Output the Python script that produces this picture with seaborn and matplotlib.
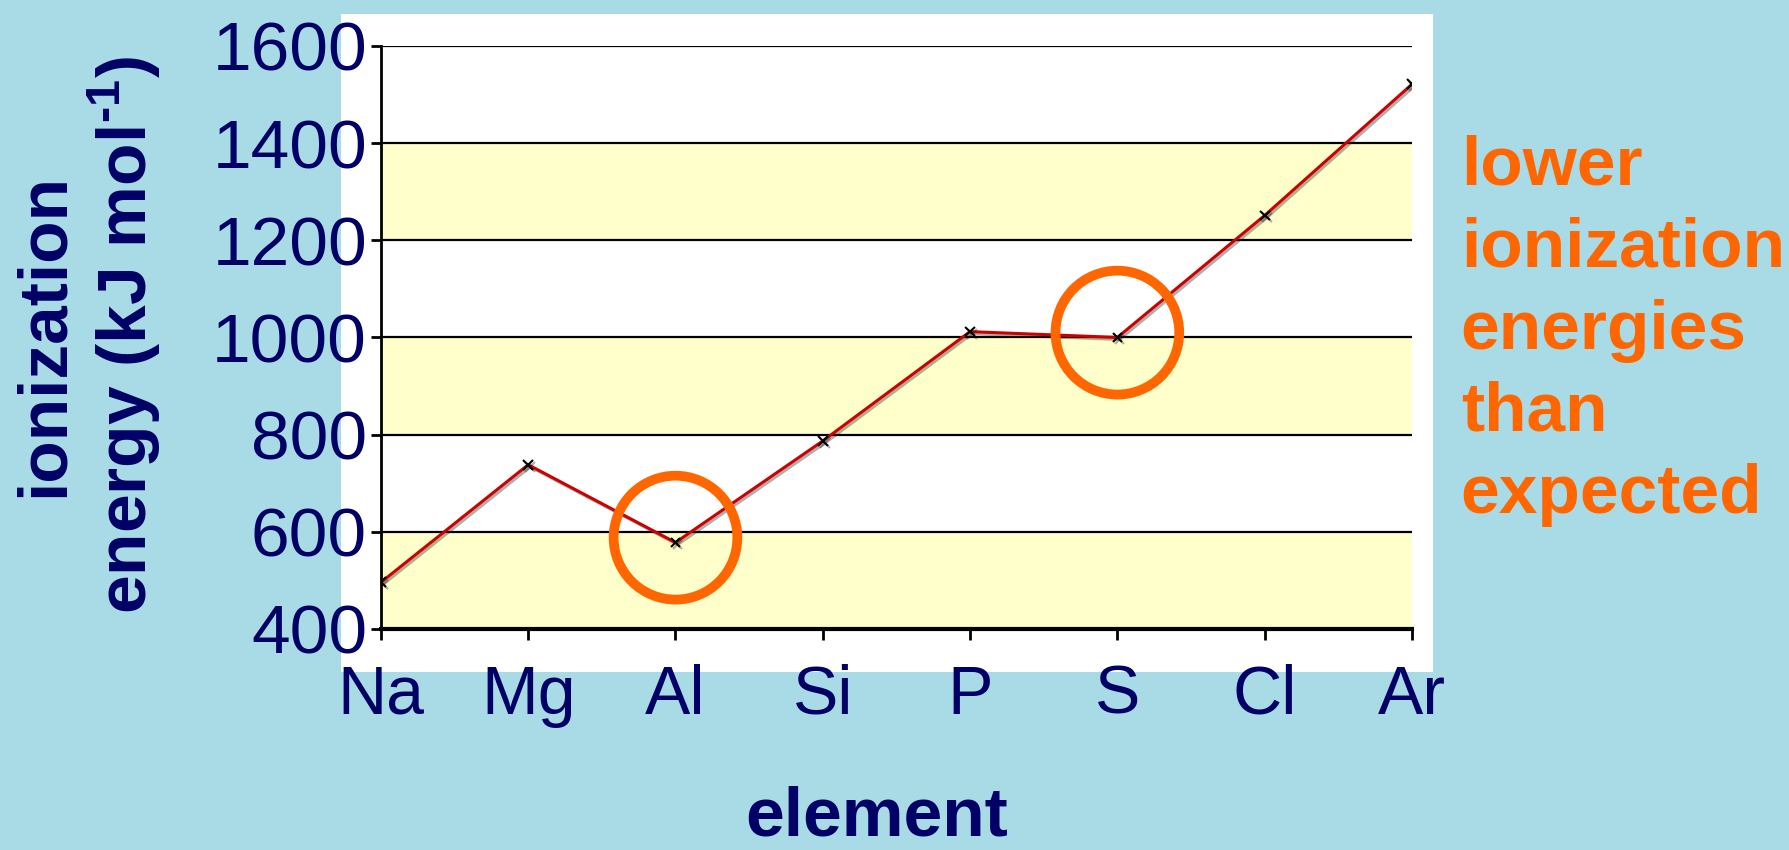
import matplotlib
matplotlib.use("Agg")
import matplotlib.pyplot as plt
import matplotlib.patheffects as pe
from matplotlib.patches import Ellipse, Rectangle
import seaborn as sns
import pandas as pd

# First ionization energies across period 3
elements = ["Na", "Mg", "Al", "Si", "P", "S", "Cl", "Ar"]
energies = [496, 738, 578, 787, 1012, 1000, 1251, 1521]
y_ticks = [400, 600, 800, 1000, 1200, 1400, 1600]
bands = [(400, 600), (800, 1000), (1200, 1400)]
# elements whose ionization energy dips below the trend
circled = ["Al", "S"]

NAVY = "#000066"
ORANGE = "#FF6600"
BG = "#A8DBE5"

sns.set_theme(style="white")
plt.rcParams["font.family"] = ["Liberation Sans", "DejaVu Sans"]
plt.rcParams["mathtext.fontset"] = "custom"
plt.rcParams["mathtext.rm"] = "Liberation Sans:bold"
plt.rcParams["mathtext.bf"] = "Liberation Sans:bold"

fig = plt.figure(figsize=(17.9, 8.5), dpi=100, facecolor=BG)

# white card behind the chart
fig.add_artist(Rectangle((0.1905, 0.2094), 0.610, 0.774, transform=fig.transFigure,
                         facecolor="white", edgecolor="none", zorder=-1))

ax = fig.add_axes([0.2128, 0.260, 0.576, 0.686])
ax.set_facecolor("white")

for lo, hi in bands:
    ax.axhspan(lo, hi, color="#FFFFCC", zorder=0, lw=0)
for yv in y_ticks[1:]:
    ax.axhline(yv, color="black", lw=1.6, zorder=1)

df = pd.DataFrame({"element": elements, "energy": energies})
sns.lineplot(data=df, x="element", y="energy", ax=ax, color="#CC0000", lw=2.2,
             marker="x", markersize=7, markeredgecolor="black", markeredgewidth=1.5,
             zorder=3,
             path_effects=[pe.SimpleLineShadow(offset=(1.5, -1.5), alpha=0.35), pe.Normal()])

# circle the anomalous points
for el in circled:
    i = elements.index(el)
    ax.add_patch(Ellipse((i, energies[i] + 10), width=0.84, height=255, fill=False,
                         edgecolor=ORANGE, lw=7, zorder=4, clip_on=False))

ax.set_xlim(0, len(elements) - 1)
ax.set_ylim(400, 1600)
ax.set_yticks(y_ticks)
ax.set_xticks(range(len(elements)))
ax.set_xticklabels(elements)
ax.set_xlabel("")
ax.set_ylabel("")

for s in ["top", "right"]:
    ax.spines[s].set_visible(False)
ax.spines["left"].set_color("black")
ax.spines["left"].set_linewidth(2)
ax.spines["bottom"].set_color("black")
ax.spines["bottom"].set_linewidth(3)
ax.spines["left"].set_zorder(5)
ax.spines["bottom"].set_zorder(5)

ax.tick_params(axis="y", direction="out", length=7, width=2, color="black",
               labelsize=50, labelcolor=NAVY, pad=3, left=True)
ax.tick_params(axis="x", direction="out", length=8, width=2, color="black",
               labelsize=49, labelcolor=NAVY, pad=17, bottom=True)

fig.text(0.049, 0.606, "ionization\nenergy (kJ mol$^{\\text{-}1}$)", rotation=90,
         ha="center", va="center", multialignment="center",
         fontsize=50, fontweight="bold", color=NAVY, linespacing=1.15)

fig.text(0.49, 0.0, "element", ha="center", va="bottom",
         fontsize=50, fontweight="bold", color=NAVY)

# va="baseline" anchors the last line ("expected")
fig.text(0.816, 0.3965, "lower\nionization\nenergies\nthan\nexpected",
         ha="left", va="baseline", fontsize=50, fontweight="bold", color=ORANGE,
         linespacing=1.36)

fig.savefig("out.png", dpi=100, facecolor=BG)
